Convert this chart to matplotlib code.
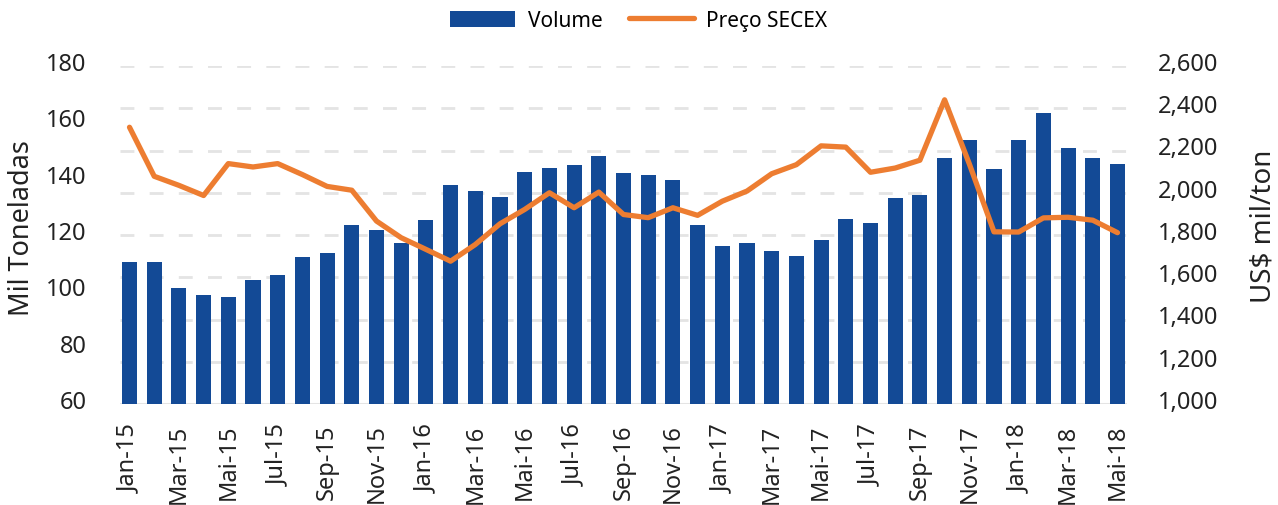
import numpy as np
import matplotlib
matplotlib.use("Agg")
import matplotlib.pyplot as plt
from matplotlib.transforms import ScaledTranslation

# monthly data, Jan-15 .. Mai-18
month_names = ["Jan", "Feb", "Mar", "Apr", "Mai", "Jun", "Jul", "Aug", "Sep", "Oct", "Nov", "Dec"]
periods = [f"{m}-{y}" for y in ("15", "16", "17") for m in month_names] + \
          [f"{m}-18" for m in month_names[:5]]

volume = [110.4, 110.4, 101.2, 98.7, 98.0, 104.0, 105.8, 112.2, 113.6, 123.5, 121.8, 117.2,
          125.3, 137.7, 135.6, 133.5, 142.4, 143.8, 144.9, 148.0, 142.0, 141.3, 139.5, 123.5,
          116.1, 117.2, 114.3, 112.5, 118.2, 125.7, 124.3, 133.1, 134.2, 147.3, 153.7, 143.4,
          153.7, 163.3, 150.9, 147.3, 145.2]

price = [2310, 2078, 2035, 1987, 2138, 2122, 2138, 2086, 2030, 2012, 1866, 1787,
         1732, 1676, 1755, 1853, 1921, 2000, 1929, 2003, 1897, 1882, 1929, 1893,
         1960, 2008, 2090, 2133, 2222, 2216, 2097, 2117, 2154, 2440, 2137, 1815,
         1814, 1881, 1884, 1870, 1811]

left_ticks = [60, 80, 100, 120, 140, 160, 180]
right_ticks = [1000, 1200, 1400, 1600, 1800, 2000, 2200, 2400, 2600]

BLUE = "#134A96"
ORANGE = "#ED7D31"
TXT = "#222222"

plt.rcParams["font.family"] = ["Noto Sans", "DejaVu Sans"]

fig = plt.figure(figsize=(12.78, 5.06), dpi=100)
ax = fig.add_axes([120 / 1278, 1 - 405 / 506, (1127 - 120) / 1278, (405 - 67) / 506])
ax2 = ax.twinx()

x = np.arange(len(periods))
ax.bar(x, volume, width=0.61, color=BLUE, zorder=3, label="Volume")
ax2.plot(x, price, color=ORANGE, lw=3.8, solid_capstyle="round", solid_joinstyle="round",
         zorder=4, label="Preço SECEX")

ax.set_ylim(60, 180)
ax2.set_ylim(1000, 2600)
ax.set_xlim(-0.385, len(periods) - 1 + 0.385)

# gridlines follow the right axis, drawn behind the bars
grid_vals = np.linspace(60, 180, len(right_ticks))
for g in grid_vals[1:]:
    ax.axhline(g, color="#e4e4e4", lw=2, ls=(0, (5, 5.5)), zorder=1)
ax.axhline(60, color="#e4e4e4", lw=2.2, zorder=2)

ax.set_yticks(left_ticks)
ax.set_yticklabels([str(v) for v in left_ticks], fontsize=17, color=TXT)
ax2.set_yticks(right_ticks)
ax2.set_yticklabels([f"{v:,}" for v in right_ticks], fontsize=17, color=TXT)
ax.set_xticks(x[::2])
ax.set_xticklabels(periods[::2], rotation=90, fontsize=17, color=TXT)

ax.tick_params(axis="y", length=0, pad=24)
ax2.tick_params(axis="y", length=0, pad=22)
ax.tick_params(axis="x", length=0, pad=14)
for a in (ax, ax2):
    for s in a.spines.values():
        s.set_visible(False)

# value labels sit a little above their gridlines in the reference
shift = ScaledTranslation(0, 5 / 100, fig.dpi_scale_trans)
for lbl in ax.get_yticklabels() + ax2.get_yticklabels():
    lbl.set_transform(lbl.get_transform() + shift)

fig.text(22 / 1278, 0.549, "Mil Toneladas", rotation=90, ha="center", va="center",
         fontsize=19.5, color=TXT)
fig.text(1264 / 1278, 0.553, "US$ mil/ton", rotation=90, ha="center", va="center",
         fontsize=20, color=TXT)

h1, l1 = ax.get_legend_handles_labels()
h2, l2 = ax2.get_legend_handles_labels()
fig.legend(h1 + h2, l1 + l2, loc="center", bbox_to_anchor=(0.5, 0.957), ncol=2,
           frameon=False, fontsize=15, handlelength=3.1, handleheight=0.85,
           handletextpad=0.6, columnspacing=1.3)

fig.savefig("out.png", dpi=100)
